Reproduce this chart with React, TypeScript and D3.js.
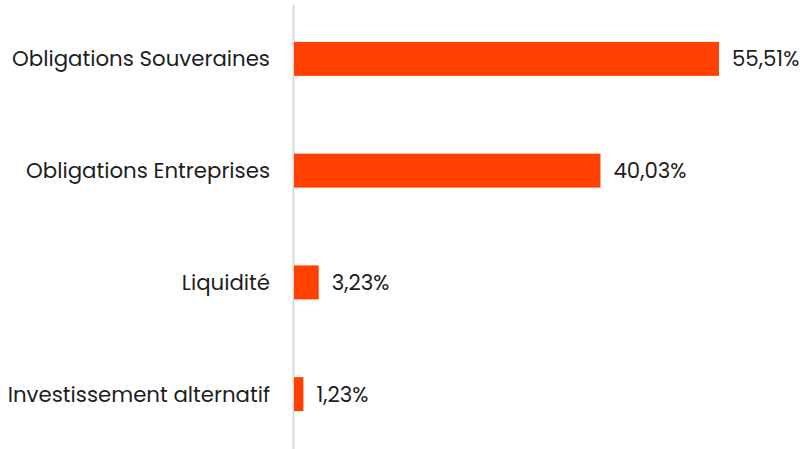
import React from "react";
import * as d3 from "d3";

const categories = [
  "Obligations Souveraines",
  "Obligations Entreprises",
  "Liquidité",
  "Investissement alternatif",
];
const values = [55.51, 40.03, 3.23, 1.23];
const valueLabels = ["55,51%", "40,03%", "3,23%", "1,23%"];

const W = 808;
const H = 449;

export default function App() {
  const x = d3.scaleLinear().domain([0, 55.51]).range([294, 719]);
  const y = d3
    .scaleBand<string>()
    .domain(categories)
    .range([3, 450])
    .paddingInner(0.696)
    .paddingOuter(0.348);
  const font = "Poppins, 'Open Sans', sans-serif";
  return (
    <svg
      width={W}
      height={H}
      style={{ position: "absolute", left: 0, top: 0, background: "#fff" }}
    >
      <line x1={293.5} x2={293.5} y1={5} y2={H} stroke="#d9d9d9" strokeWidth={2} />
      {categories.map((c, i) => {
        const yc = (y(c) as number) + y.bandwidth() / 2;
        return (
          <g key={c}>
            <rect
              x={x(0)}
              y={y(c)}
              width={x(values[i]) - x(0)}
              height={y.bandwidth()}
              fill="#ff4000"
            />
            <text
              x={270}
              y={yc}
              dy="0.35em"
              textAnchor="end"
              fontFamily={font}
              fontSize={21.3}
              fill="#1e1e1e"
            >
              {c}
            </text>
            <text
              x={x(values[i]) + 13}
              y={yc}
              dy="0.35em"
              textAnchor="start"
              fontFamily={font}
              fontSize={21.3}
              fill="#1e1e1e"
            >
              {valueLabels[i]}
            </text>
          </g>
        );
      })}
    </svg>
  );
}
